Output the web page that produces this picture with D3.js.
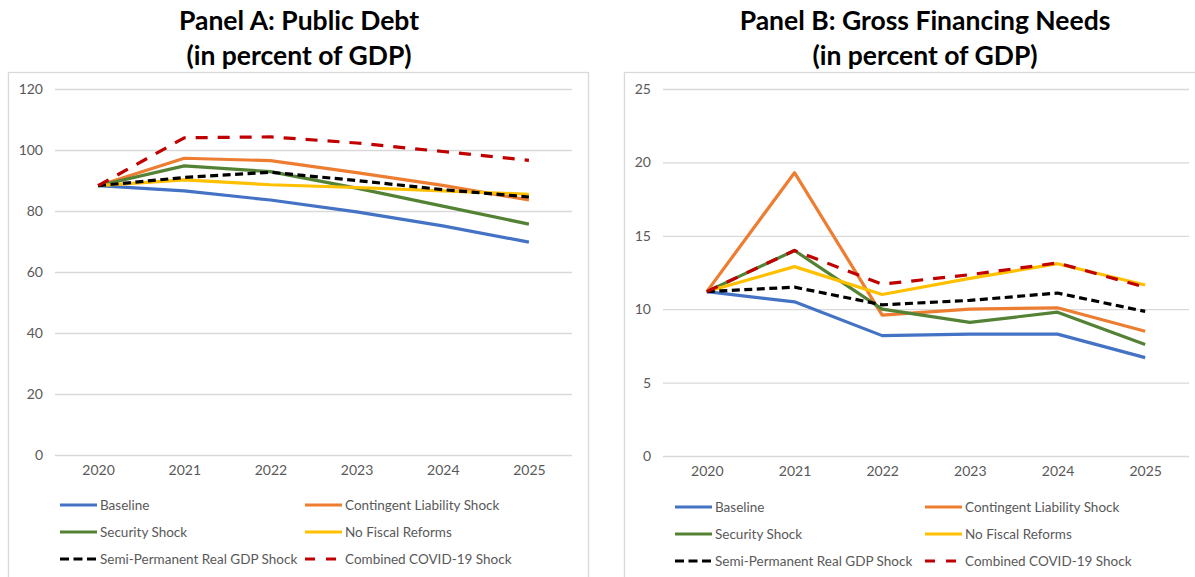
<!DOCTYPE html>
<html>
<head>
<meta charset="utf-8">
<script src="https://cdn.jsdelivr.net/npm/d3@7"></script>
<style>
  html, body { margin: 0; padding: 0; background: #fff; }
  svg { display: block; font-family: Lato, "Open Sans", sans-serif; }
</style>
</head>
<body>
<svg id="chart" width="1195" height="577"></svg>
<script>
// Projection years
const years = ["2020", "2021", "2022", "2023", "2024", "2025"];

// Scenario names (legend order)
const scenarios = [
  "Baseline",
  "Contingent Liability Shock",
  "Security Shock",
  "No Fiscal Reforms",
  "Semi-Permanent Real GDP Shock",
  "Combined COVID-19 Shock"
];

// Panel A: public debt, percent of GDP
const debtBaseline    = [88.3, 86.6, 83.6, 79.7, 75.1, 69.8];
const debtContingent  = [88.3, 97.3, 96.5, 92.6, 88.4, 83.6];
const debtSecurity    = [88.3, 94.8, 92.9, 87.5, 81.6, 75.7];
const debtNoReforms   = [88.3, 90.2, 88.6, 87.7, 86.6, 85.5];
const debtSemiPerm    = [88.3, 91.0, 92.7, 90.0, 87.0, 84.6];
const debtCombined    = [88.3, 104.0, 104.3, 102.3, 99.5, 96.6];

// Panel B: gross financing needs, percent of GDP
const gfnBaseline     = [11.2, 10.5, 8.2, 8.3, 8.3, 6.7];
const gfnContingent   = [11.2, 19.3, 9.6, 10.0, 10.1, 8.5];
const gfnSecurity     = [11.2, 14.0, 10.0, 9.1, 9.8, 7.6];
const gfnNoReforms    = [11.2, 12.9, 11.0, 12.1, 13.1, 11.65];
const gfnSemiPerm     = [11.2, 11.5, 10.3, 10.6, 11.1, 9.85];
const gfnCombined     = [11.2, 14.0, 11.7, 12.35, 13.15, 11.5];

// Axis ticks
const debtTicks = [0, 20, 40, 60, 80, 100, 120];
const gfnTicks  = [0, 5, 10, 15, 20, 25];

// Line styling per scenario
const styles = [
  { color: "#4472C4", dash: null },
  { color: "#ED7D31", dash: null },
  { color: "#548235", dash: null },
  { color: "#FFC000", dash: null },
  { color: "#000000", dash: "8,4.5" },
  { color: "#C00000", dash: "12,10" }
];

const svg = d3.select("#chart");

function drawPanel(cfg) {
  const g = svg.append("g");

  // chart frame
  g.append("rect")
    .attr("x", cfg.frame[0] + 0.5).attr("y", cfg.frame[1] + 0.5)
    .attr("width", cfg.frame[2]).attr("height", cfg.frame[3])
    .attr("fill", "#fff").attr("stroke", "#D9D9D9").attr("stroke-width", 1.3);

  // title
  const title = g.append("text")
    .attr("x", cfg.titleX).attr("text-anchor", "middle")
    .attr("font-weight", "bold").attr("font-size", 26.5).attr("fill", "#000");
  title.append("tspan").attr("x", cfg.titleX).attr("y", 30).text(cfg.title);
  title.append("tspan").attr("x", cfg.titleX).attr("y", 65).text("(in percent of GDP)");

  const x = d3.scalePoint().domain(years).range([cfg.left, cfg.right]).padding(0.5);
  const y = d3.scaleLinear().domain([0, cfg.ticks[cfg.ticks.length - 1]]).range([cfg.bottom, cfg.top]);

  // gridlines + y labels
  const yAxis = d3.axisLeft(y).tickValues(cfg.ticks).tickSize(-(cfg.right - cfg.left)).tickPadding(12);
  const ya = g.append("g").attr("transform", `translate(${cfg.left},0)`).call(yAxis);
  ya.select(".domain").remove();
  ya.selectAll(".tick line").attr("stroke", "#D9D9D9").attr("stroke-width", 1.3);
  ya.selectAll(".tick text").attr("fill", "#595959").attr("font-size", 14)
    .attr("font-family", "Lato, sans-serif");

  // x labels
  const xAxis = d3.axisBottom(x).tickSize(0).tickPadding(10);
  const xa = g.append("g").attr("transform", `translate(0,${cfg.bottom})`).call(xAxis);
  xa.select(".domain").remove();
  xa.selectAll(".tick text").attr("fill", "#595959").attr("font-size", 14)
    .attr("font-family", "Lato, sans-serif");

  // series lines
  const line = d3.line().x((d, i) => x(years[i])).y(d => y(d));
  cfg.series.forEach((vals, k) => {
    const st = styles[k];
    g.append("path")
      .datum(vals)
      .attr("d", line)
      .attr("fill", "none")
      .attr("stroke", st.color)
      .attr("stroke-width", 3.2)
      .attr("stroke-linejoin", "round")
      .attr("stroke-dasharray", st.dash);
  });

  // legend, two columns by three rows
  scenarios.forEach((name, k) => {
    const col = k % 2, row = Math.floor(k / 2);
    const lx = cfg.legendX[col], ly = cfg.legendY[row];
    const st = styles[k];
    g.append("line")
      .attr("x1", lx).attr("x2", lx + 37).attr("y1", ly).attr("y2", ly)
      .attr("stroke", st.color).attr("stroke-width", 3.2)
      .attr("stroke-dasharray", k === 4 ? "9,4.5" : (k === 5 ? "10,11" : null));
    g.append("text")
      .attr("x", lx + 40).attr("y", ly).attr("dy", "0.35em")
      .attr("font-size", 13.5).attr("fill", "#595959")
      .text(name);
  });
}

drawPanel({
  title: "Panel A: Public Debt",
  titleX: 299,
  frame: [8, 72, 580, 520],
  left: 55, right: 572, top: 89, bottom: 455,
  ticks: debtTicks,
  series: [debtBaseline, debtContingent, debtSecurity, debtNoReforms, debtSemiPerm, debtCombined],
  legendX: [60, 305],
  legendY: [505, 532, 559]
});

drawPanel({
  title: "Panel B: Gross Financing Needs",
  titleX: 925,
  frame: [624, 72, 600, 520],
  left: 663, right: 1189, top: 89, bottom: 456,
  ticks: gfnTicks,
  series: [gfnBaseline, gfnContingent, gfnSecurity, gfnNoReforms, gfnSemiPerm, gfnCombined],
  legendX: [675, 925],
  legendY: [507, 534, 561]
});
</script>
</body>
</html>
